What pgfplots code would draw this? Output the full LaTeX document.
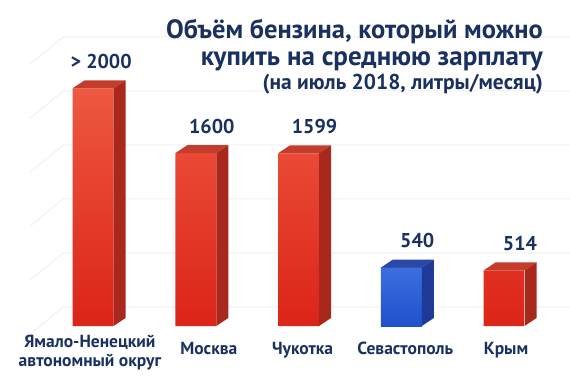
\documentclass[border=0pt]{standalone}
\usepackage{pgfplots}
\pgfplotsset{compat=1.18}
\usepackage{pgfplotstable}
\usepackage{fontspec}
\setmainfont{PT Sans}
\definecolor{navy}{HTML}{1A3160}
\definecolor{redtop}{HTML}{EE5840}
\definecolor{redbot}{HTML}{DC2418}
\definecolor{redside}{HTML}{A8281C}
\definecolor{redface}{HTML}{C43C2C}
\definecolor{bluetop}{HTML}{3D6EE0}
\definecolor{bluebot}{HTML}{2050CC}
\definecolor{blueside}{HTML}{1E3A96}
\definecolor{blueface}{HTML}{2A48A8}
\definecolor{gridc}{HTML}{F0F0F0}

\pgfplotstableread{
x y label
0 2200 {\llap{> }2000}
1 1600 1600
2 1599 1599
4 514 514
}\reddata
\pgfplotstableread{
x y label
3 540 540
}\bluedata
\pgfplotstableread{
x y
-0.61 -74
-0.29 176
4.7 176
}\gridA
\pgfplotstableread{
x y
-0.61 426
-0.29 676
4.7 676
}\gridB
\pgfplotstableread{
x y
-0.61 926
-0.29 1176
4.7 1176
}\gridC
\pgfplotstableread{
x y
-0.61 1426
-0.29 1676
4.7 1676
}\gridD
\pgfplotstableread{
x y
-0.61 1926
-0.29 2176
4.7 2176
}\gridE
\pgfplotstableread{
x y
-0.61 2426
-0.29 2676
4.7 2676
}\gridF

\pgfdeclareplotmark{red3d}{%
  \pgfsetfillcolor{redface}%
  \pgfpathmoveto{\pgfqpoint{-20.5pt}{0pt}}%
  \pgfpathlineto{\pgfqpoint{20.5pt}{0pt}}%
  \pgfpathlineto{\pgfqpoint{32.5pt}{8pt}}%
  \pgfpathlineto{\pgfqpoint{-8.5pt}{8pt}}%
  \pgfpathclose\pgfusepathqfill
  \pgfsetfillcolor{redside}%
  \pgfpathmoveto{\pgfqpoint{20.5pt}{0pt}}%
  \pgfpathlineto{\pgfqpoint{32.5pt}{8pt}}%
  \pgfpathlineto{\pgfpoint{32.5pt}{8pt-\barval*0.108pt}}%
  \pgfpathlineto{\pgfpoint{20.5pt}{-\barval*0.108pt}}%
  \pgfpathclose\pgfusepathqfill
}
\pgfdeclareplotmark{blue3d}{%
  \pgfsetfillcolor{blueface}%
  \pgfpathmoveto{\pgfqpoint{-20.5pt}{0pt}}%
  \pgfpathlineto{\pgfqpoint{20.5pt}{0pt}}%
  \pgfpathlineto{\pgfqpoint{32.5pt}{8pt}}%
  \pgfpathlineto{\pgfqpoint{-8.5pt}{8pt}}%
  \pgfpathclose\pgfusepathqfill
  \pgfsetfillcolor{blueside}%
  \pgfpathmoveto{\pgfqpoint{20.5pt}{0pt}}%
  \pgfpathlineto{\pgfqpoint{32.5pt}{8pt}}%
  \pgfpathlineto{\pgfpoint{32.5pt}{8pt-\barval*0.108pt}}%
  \pgfpathlineto{\pgfpoint{20.5pt}{-\barval*0.108pt}}%
  \pgfpathclose\pgfusepathqfill
}

\begin{document}
\begin{tikzpicture}
\path[use as bounding box] (-93pt,-54pt) rectangle (477pt,326pt);
\begin{axis}[
  at={(0pt,0pt)}, anchor=origin,
  x=102.75pt, y=0.108pt,
  xmin=-0.905, xmax=4.64, ymin=0, ymax=2700,
  clip=false,
  axis line style={draw=none},
  major tick length=0pt,
  ytick=\empty,
  xtick={1.127,2.04,3.04,4.02},
  xticklabels={Москва,Чукотка,Севастополь,Крым},
  xticklabel style={font=\bfseries\fontsize{17.5}{18.5}\selectfont, text=navy, align=center, anchor=base, yshift=-28pt},
  extra x ticks={-0.03},
  extra x tick labels={{Ямало-Ненецкий\\автономный округ}},
  extra x tick style={xticklabel style={anchor=base, yshift=-12pt}},
  every node near coord/.append style={anchor=base, xshift=16pt, yshift=20pt, font=\bfseries\fontsize{20}{24}\selectfont, text=navy, inner sep=0pt},
]
\addplot[gridc, line width=1pt] table[x=x,y=y]{\gridA};
\addplot[gridc, line width=1pt] table[x=x,y=y]{\gridB};
\addplot[gridc, line width=1pt] table[x=x,y=y]{\gridC};
\addplot[gridc, line width=1pt] table[x=x,y=y]{\gridD};
\addplot[gridc, line width=1pt] table[x=x,y=y]{\gridE};
\addplot[gridc, line width=1pt] table[x=x,y=y]{\gridF};

\addplot[ybar, bar width=41pt, bar shift=0pt, draw=none, top color=redtop, bottom color=redbot] table[x=x,y=y]{\reddata};
\addplot[ybar, bar width=41pt, bar shift=0pt, draw=none, top color=bluetop, bottom color=bluebot] table[x=x,y=y]{\bluedata};

\addplot[only marks, mark=red3d, visualization depends on={\thisrow{y} \as \barval},
  nodes near coords, point meta=explicit symbolic] table[x=x,y=y,meta=label]{\reddata};
\addplot[only marks, mark=blue3d, visualization depends on={\thisrow{y} \as \barval},
  nodes near coords, point meta=explicit symbolic] table[x=x,y=y,meta=label]{\bluedata};
\end{axis}
\node[anchor=base east, inner sep=0pt, text=navy, font=\bfseries\fontsize{26.5}{30}\selectfont] at (450pt,287pt) {Объём бензина, который можно};
\node[anchor=base east, inner sep=0pt, text=navy, font=\bfseries\fontsize{27}{30}\selectfont] at (450pt,260pt) {купить на среднюю зарплату};
\node[anchor=base east, inner sep=0pt, text=navy, font=\bfseries\fontsize{21.5}{24}\selectfont] at (450pt,236pt) {(на июль 2018, литры/месяц)};
\end{tikzpicture}
\end{document}
